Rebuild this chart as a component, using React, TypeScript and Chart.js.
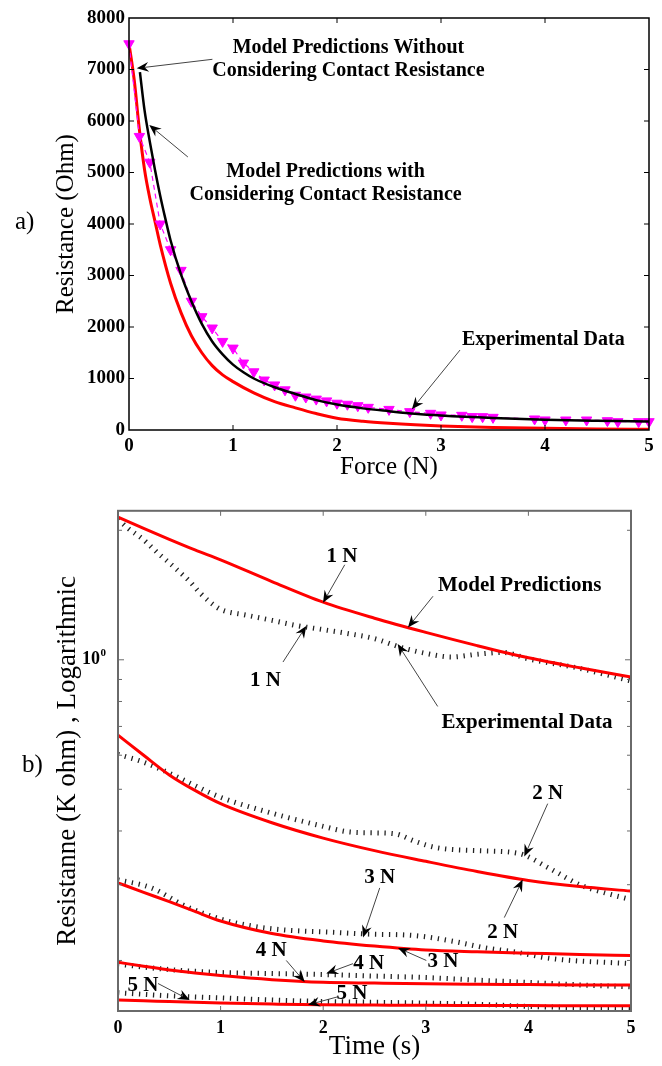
import React, { useEffect, useRef } from 'react';
import { Chart, registerables } from 'chart.js';

Chart.register(...registerables);

const SERIF = '"Liberation Serif", "Times New Roman", "DejaVu Serif", serif';

// ---------- Panel a) : Resistance vs Force ----------
const FORCE_TICKS = [0, 1, 2, 3, 4, 5];
const RES_TICKS = [0, 1000, 2000, 3000, 4000, 5000, 6000, 7000, 8000];

const expForce = [0, 0.1, 0.2, 0.3, 0.4, 0.5, 0.6, 0.7, 0.8, 0.9, 1.0, 1.1, 1.2, 1.3, 1.4, 1.5, 1.6, 1.7, 1.8, 1.9, 2.0, 2.1, 2.2, 2.3, 2.5, 2.7, 2.9, 3.0, 3.2, 3.3, 3.4, 3.5, 3.9, 4.0, 4.2, 4.4, 4.6, 4.7, 4.9, 5.0];
const expRes = [7500, 5700, 5200, 4000, 3500, 3100, 2500, 2200, 1980, 1720, 1590, 1300, 1130, 970, 875, 780, 675, 640, 600, 565, 520, 500, 472, 440, 400, 356, 324, 292, 285, 260, 259, 246, 214, 195, 194, 194, 181, 162, 162, 162];

const withContactForce = [0.105, 0.15, 0.2, 0.25, 0.3, 0.35, 0.4, 0.5, 0.6, 0.7, 0.8, 0.9, 1.0, 1.1, 1.2, 1.4, 1.6, 1.8, 2.0, 2.25, 2.5, 2.75, 3.0, 3.5, 4.0, 4.5, 5.0];
const withContactRes = [6950, 6200, 5600, 5050, 4550, 4100, 3680, 3020, 2500, 2060, 1720, 1470, 1270, 1120, 1000, 830, 700, 580, 495, 420, 365, 315, 280, 232, 200, 180, 165];

const noContactForce = [0, 0.05, 0.1, 0.15, 0.2, 0.25, 0.3, 0.4, 0.5, 0.6, 0.7, 0.8, 0.9, 1.0, 1.2, 1.4, 1.6, 1.8, 2.0, 2.25, 2.5, 2.75, 3.0, 3.5, 4.0, 4.5, 5.0];
const noContactRes = [7500, 6800, 5830, 5050, 4500, 4050, 3600, 2850, 2280, 1830, 1500, 1250, 1070, 940, 720, 550, 430, 320, 230, 170, 130, 100, 78, 50, 32, 20, 14];

// ---------- Panel b) : Resistance (log) vs Time ----------
const TIME_TICKS = [0, 1, 2, 3, 4, 5];
const LOG_TICKS = [0.2, 0.3, 0.4, 0.5, 0.6, 0.7, 0.8, 0.9, 1, 2];
const Y_MIN_B = 0.1526;
const Y_MAX_B = 2.22;

const modelTime = [0, 0.25, 0.5, 0.75, 1, 1.5, 2, 2.5, 3, 3.5, 4, 4.5, 5];
const model1N = [2.146, 2.02, 1.905, 1.80, 1.707, 1.52, 1.361, 1.249, 1.158, 1.079, 1.011, 0.958, 0.912];
const model2N = [0.668, 0.60, 0.54, 0.497, 0.463, 0.418, 0.385, 0.36, 0.34, 0.322, 0.307, 0.297, 0.29];
const model3N = [0.303, 0.288, 0.274, 0.26, 0.247, 0.231, 0.222, 0.216, 0.2115, 0.2095, 0.208, 0.2065, 0.2054];
const model4N = [0.198, 0.194, 0.19, 0.187, 0.1845, 0.1805, 0.178, 0.1772, 0.1765, 0.1761, 0.1758, 0.1755, 0.1753];
const model5N = [0.1618, 0.1612, 0.1605, 0.1599, 0.1593, 0.1584, 0.1577, 0.1575, 0.1573, 0.1572, 0.1571, 0.157, 0.157];

const exp1NTime = [0, 0.1, 0.25, 0.4, 0.5, 0.6, 0.7, 0.8, 0.9, 1.0, 1.25, 1.5, 1.75, 2.0, 2.25, 2.5, 2.75, 3.0, 3.25, 3.5, 3.75, 4.0, 4.5, 5.0];
const exp1N = [2.12, 2.02, 1.90, 1.76, 1.68, 1.60, 1.52, 1.43, 1.36, 1.31, 1.27, 1.235, 1.20, 1.175, 1.15, 1.12, 1.07, 1.035, 1.015, 1.03, 1.04, 1.005, 0.955, 0.893];
const exp2NTime = [0, 0.25, 0.5, 0.75, 1, 1.5, 2, 2.25, 2.5, 2.7, 2.9, 3.1, 3.5, 3.9, 4.2, 4.5, 4.75, 5];
const exp2N = [0.603, 0.578, 0.545, 0.51, 0.479, 0.44, 0.41, 0.398, 0.396, 0.394, 0.378, 0.366, 0.36, 0.355, 0.328, 0.30, 0.287, 0.277];
const exp3NTime = [0, 0.325, 0.65, 1, 1.3, 1.62, 2.1, 2.4, 2.9, 3.25, 3.57, 3.9, 4.22, 5];
const exp3N = [0.308, 0.295, 0.268, 0.2496, 0.2406, 0.2355, 0.2325, 0.2305, 0.2284, 0.222, 0.2142, 0.2087, 0.2021, 0.1966];
const exp45NTime = [0, 0.5, 1, 1.5, 2, 2.5, 3, 3.5, 4, 4.5, 5];
const exp4N = [0.196, 0.1905, 0.1875, 0.1865, 0.1855, 0.184, 0.1825, 0.180, 0.1778, 0.1755, 0.1737];
const exp5N = [0.1683, 0.1655, 0.1637, 0.1618, 0.1606, 0.1599, 0.1592, 0.1582, 0.1564, 0.1553, 0.1545];

// ---------- Annotations (data coordinates) ----------
const TOP_NOTES = [
  { lines: ['Model Predictions Without', 'Considering Contact Resistance'], x: 2.11, y: 7417 },
  { lines: ['Model Predictions with', 'Considering Contact Resistance'], x: 1.89, y: 5010 },
  { lines: ['Experimental Data'], x: 3.984, y: 1748 },
];
const TOP_ARROWS = [
  [0.802, 7198, 0.074, 7023],
  [0.566, 5301, 0.195, 5922],
  [3.183, 1553, 2.72, 402],
];
const BOTTOM_NOTES = [
  { text: '1 N', x: 2.183, y: 1.737 },
  { text: 'Model Predictions', x: 3.915, y: 1.487 },
  { text: '1 N', x: 1.438, y: 0.896 },
  { text: 'Experimental Data', x: 3.986, y: 0.713 },
  { text: '2 N', x: 4.188, y: 0.488 },
  { text: '2 N', x: 3.75, y: 0.2324 },
  { text: '3 N', x: 2.551, y: 0.311 },
  { text: '3 N', x: 3.168, y: 0.1983 },
  { text: '4 N', x: 1.494, y: 0.2109 },
  { text: '4 N', x: 2.444, y: 0.1966 },
  { text: '5 N', x: 0.244, y: 0.1753 },
  { text: '5 N', x: 2.281, y: 0.1671 },
];
const BOTTOM_ARROWS = [
  [2.21, 1.663, 1.998, 1.357],
  [3.07, 1.405, 2.826, 1.189],
  [1.608, 0.988, 1.835, 1.199],
  [3.116, 0.779, 2.726, 1.088],
  [4.188, 0.463, 3.96, 0.349],
  [3.765, 0.2516, 3.944, 0.3083],
  [2.551, 0.2949, 2.388, 0.2263],
  [3.005, 0.2, 2.729, 0.2139],
  [1.64, 0.2, 1.82, 0.1783],
  [2.29, 0.1966, 2.03, 0.1865],
  [0.39, 0.1768, 0.699, 0.1618],
  [2.144, 0.1647, 1.852, 0.1577],
];

const pts = (xs: number[], ys: number[]) => xs.map((x, i) => ({ x, y: ys[i] }));

function drawArrow(ctx: CanvasRenderingContext2D, x1: number, y1: number, x2: number, y2: number) {
  const ang = Math.atan2(y2 - y1, x2 - x1);
  const len = 12, w = 5, notch = 8;
  const c = Math.cos(ang), s = Math.sin(ang);
  ctx.strokeStyle = '#444';
  ctx.lineWidth = 1;
  ctx.beginPath();
  ctx.moveTo(x1, y1);
  ctx.lineTo(x2 - notch * c, y2 - notch * s);
  ctx.stroke();
  ctx.fillStyle = '#000';
  ctx.beginPath();
  ctx.moveTo(x2, y2);
  ctx.lineTo(x2 - len * c + w * s, y2 - len * s - w * c);
  ctx.lineTo(x2 - notch * c, y2 - notch * s);
  ctx.lineTo(x2 - len * c - w * s, y2 - len * s + w * c);
  ctx.closePath();
  ctx.fill();
}

function drawFrameTicks(chart: any, xTicks: number[], yTicks: number[], color: string, lw: number, majorY?: number[]) {
  const { ctx, chartArea: a, scales } = chart;
  const x = scales.x, y = scales.y;
  ctx.save();
  ctx.strokeStyle = color;
  ctx.lineWidth = 1;
  ctx.beginPath();
  xTicks.forEach((v) => {
    const px = x.getPixelForValue(v);
    if (px <= a.left + 1 || px >= a.right - 1) return;
    ctx.moveTo(px, a.bottom); ctx.lineTo(px, a.bottom - 5);
    ctx.moveTo(px, a.top); ctx.lineTo(px, a.top + 5);
  });
  yTicks.forEach((v) => {
    const py = y.getPixelForValue(v);
    if (py <= a.top + 1 || py >= a.bottom - 1) return;
    const L = majorY ? (majorY.includes(v) ? 6 : 4) : 5;
    ctx.moveTo(a.left, py); ctx.lineTo(a.left + L, py);
    ctx.moveTo(a.right, py); ctx.lineTo(a.right - L, py);
  });
  ctx.stroke();
  ctx.lineWidth = lw;
  ctx.strokeRect(a.left, a.top, a.right - a.left, a.bottom - a.top);
  ctx.restore();
}

const panelAPlugin = {
  id: 'panelA',
  afterDraw(chart: any) {
    const { ctx, scales } = chart;
    const x = scales.x, y = scales.y;
    drawFrameTicks(chart, FORCE_TICKS, RES_TICKS, '#000', 1.5);
    ctx.save();
    TOP_ARROWS.forEach(([a, b, c, d]) =>
      drawArrow(ctx, x.getPixelForValue(a), y.getPixelForValue(b), x.getPixelForValue(c), y.getPixelForValue(d)));
    ctx.fillStyle = '#000';
    ctx.font = `bold 20px ${SERIF}`;
    ctx.textAlign = 'center';
    ctx.textBaseline = 'middle';
    TOP_NOTES.forEach((n) => {
      const px = x.getPixelForValue(n.x);
      const py = y.getPixelForValue(n.y);
      n.lines.forEach((l, i) => ctx.fillText(l, px, py + i * 23));
    });
    ctx.font = `25px ${SERIF}`;
    ctx.textAlign = 'left';
    ctx.fillText('a)', 15, 222);
    ctx.restore();
  },
};

const panelBPlugin = {
  id: 'panelB',
  afterDraw(chart: any) {
    const { ctx, scales, chartArea } = chart;
    const x = scales.x, y = scales.y;
    drawFrameTicks(chart, TIME_TICKS, LOG_TICKS, '#6a6a6a', 2, [1]);
    ctx.save();
    BOTTOM_ARROWS.forEach(([a, b, c, d]) =>
      drawArrow(ctx, x.getPixelForValue(a), y.getPixelForValue(b), x.getPixelForValue(c), y.getPixelForValue(d)));
    ctx.fillStyle = '#000';
    ctx.font = `bold 21px ${SERIF}`;
    ctx.textAlign = 'center';
    ctx.textBaseline = 'middle';
    BOTTOM_NOTES.forEach((n) => ctx.fillText(n.text, x.getPixelForValue(n.x), y.getPixelForValue(n.y)));
    // superscript exponent of the 10^0 tick label
    ctx.font = `bold 11px ${SERIF}`;
    ctx.textAlign = 'left';
    ctx.fillText('0', chartArea.left - 17.5, y.getPixelForValue(1) - 7);
    ctx.font = `25px ${SERIF}`;
    ctx.fillText('b)', 22, 283);
    ctx.restore();
  },
};

function makeConfigA(): any {
  return {
    type: 'scatter',
    data: {
      datasets: [
        {
          label: 'Model Predictions with Considering Contact Resistance',
          data: pts(withContactForce, withContactRes),
          showLine: true, borderColor: '#000', borderWidth: 2.5, pointRadius: 0,
          cubicInterpolationMode: 'monotone',
        },
        {
          label: 'Experimental Data',
          data: pts(expForce, expRes),
          showLine: true, borderColor: '#FF00FF', borderWidth: 1.2, borderDash: [5, 4],
          pointStyle: 'triangle', rotation: 180, pointRadius: 6,
          pointBackgroundColor: '#FF00FF', pointBorderColor: '#FF00FF', pointBorderWidth: 1,
          clip: false,
        },
        {
          label: 'Model Predictions Without Considering Contact Resistance',
          data: pts(noContactForce, noContactRes),
          showLine: true, borderColor: '#FF0000', borderWidth: 3, pointRadius: 0,
          cubicInterpolationMode: 'monotone',
        },
      ],
    },
    options: {
      animation: false,
      responsive: false,
      events: [],
      layout: { padding: { left: 51, right: 13, top: 18, bottom: 0 } },
      plugins: { legend: { display: false }, tooltip: { enabled: false } },
      scales: {
        x: {
          type: 'linear', min: 0, max: 5,
          afterBuildTicks: (s: any) => { s.ticks = FORCE_TICKS.map((v) => ({ value: v })); },
          afterFit: (s: any) => { s.height = 52; },
          grid: { display: false, drawTicks: false },
          border: { display: false },
          ticks: { font: { family: SERIF, size: 19, weight: 'bold' }, color: '#000', padding: 5, maxRotation: 0, autoSkip: false },
          title: { display: true, text: 'Force (N)', font: { family: SERIF, size: 25 }, color: '#000', padding: 0 },
        },
        y: {
          type: 'linear', min: 0, max: 8000,
          afterBuildTicks: (s: any) => { s.ticks = RES_TICKS.map((v) => ({ value: v })); },
          afterFit: (s: any) => { s.width = 78; },
          grid: { display: false, drawTicks: false },
          border: { display: false },
          ticks: { font: { family: SERIF, size: 19, weight: 'bold' }, color: '#000', padding: 4, autoSkip: false, callback: (v: any) => String(v) },
          title: { display: true, text: 'Resistance (Ohm)', font: { family: SERIF, size: 25 }, color: '#000', padding: 0 },
        },
      },
    },
    plugins: [panelAPlugin],
  };
}

function makeConfigB(): any {
  const red = (label: string, t: number[], v: number[]) => ({
    label, data: pts(t, v), showLine: true, borderColor: '#FF0000', borderWidth: 3,
    pointRadius: 0, cubicInterpolationMode: 'monotone',
  });
  const dotted = (label: string, t: number[], v: number[]) => ({
    label, data: pts(t, v), showLine: true, borderColor: '#222', borderWidth: 5,
    borderDash: [1.3, 5.7], pointRadius: 0, cubicInterpolationMode: 'monotone',
  });
  return {
    type: 'scatter',
    data: {
      datasets: [
        red('Model 1 N', modelTime, model1N),
        red('Model 2 N', modelTime, model2N),
        red('Model 3 N', modelTime, model3N),
        red('Model 4 N', modelTime, model4N),
        red('Model 5 N', modelTime, model5N),
        dotted('Experimental 1 N', exp1NTime, exp1N),
        dotted('Experimental 2 N', exp2NTime, exp2N),
        dotted('Experimental 3 N', exp3NTime, exp3N),
        dotted('Experimental 4 N', exp45NTime, exp4N),
        dotted('Experimental 5 N', exp45NTime, exp5N),
      ],
    },
    options: {
      animation: false,
      responsive: false,
      events: [],
      layout: { padding: { left: 52, right: 31, top: 23, bottom: 0 } },
      plugins: { legend: { display: false }, tooltip: { enabled: false } },
      scales: {
        x: {
          type: 'linear', min: 0, max: 5,
          afterBuildTicks: (s: any) => { s.ticks = TIME_TICKS.map((v) => ({ value: v })); },
          afterFit: (s: any) => { s.height = 55; },
          grid: { display: false, drawTicks: false },
          border: { display: false },
          ticks: { font: { family: SERIF, size: 18, weight: 'bold' }, color: '#000', padding: 7, maxRotation: 0, autoSkip: false },
          title: { display: true, text: 'Time (s)', font: { family: SERIF, size: 27 }, color: '#000', padding: { top: 0, bottom: 3 } },
        },
        y: {
          type: 'logarithmic', min: Y_MIN_B, max: Y_MAX_B,
          afterBuildTicks: (s: any) => { s.ticks = LOG_TICKS.map((v) => ({ value: v })); },
          afterFit: (s: any) => { s.width = 66; },
          grid: { display: false, drawTicks: false },
          border: { display: false },
          ticks: { font: { family: SERIF, size: 18, weight: 'bold' }, color: '#000', padding: 18, autoSkip: false, callback: (v: any) => (v === 1 ? '10' : '') },
          title: { display: true, text: 'Resistanne (K ohm) , Logarithmic', font: { family: SERIF, size: 27 }, color: '#000', padding: 0 },
        },
      },
    },
    plugins: [panelBPlugin],
  };
}

function ChartCanvas({ make, top, height }: { make: () => any; top: number; height: number }) {
  const ref = useRef<HTMLCanvasElement | null>(null);
  useEffect(() => {
    if (!ref.current) return;
    const chart = new Chart(ref.current, make());
    return () => chart.destroy();
  }, [make]);
  return (
    <canvas
      ref={ref}
      width={662}
      height={height}
      style={{ position: 'absolute', left: 0, top, width: 662, height, display: 'block' }}
    />
  );
}

export default function App() {
  return (
    <div style={{ position: 'absolute', left: 0, top: 0, width: 662, height: 1066, background: '#fff' }}>
      <ChartCanvas make={makeConfigA} top={0} height={482} />
      <ChartCanvas make={makeConfigB} top={482} height={584} />
    </div>
  );
}
